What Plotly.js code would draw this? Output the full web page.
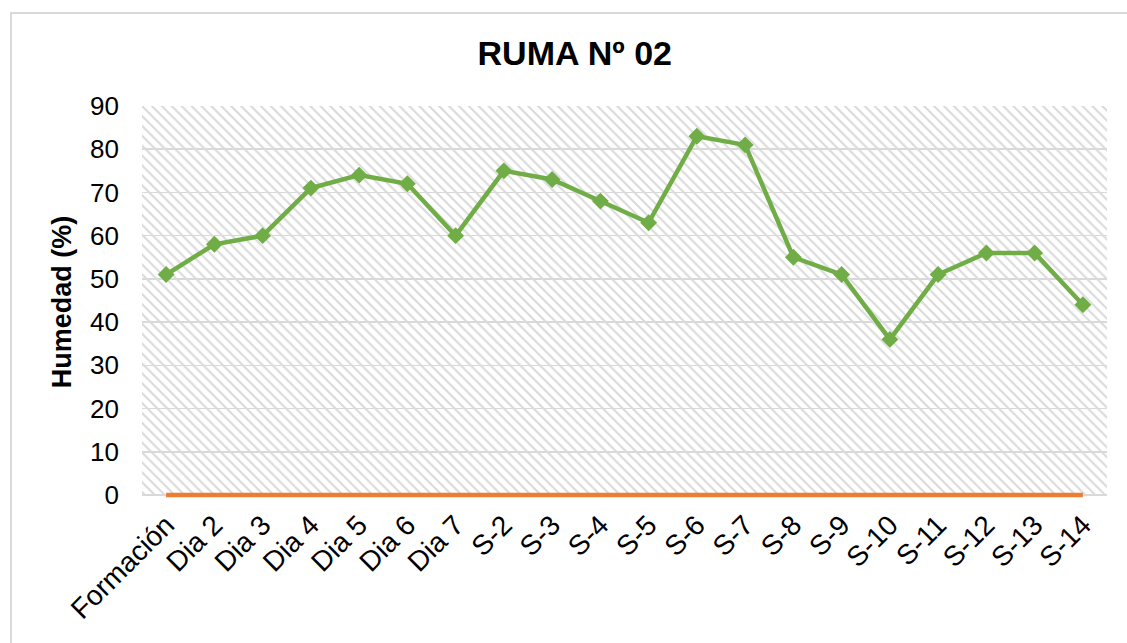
<!DOCTYPE html>
<html>
<head>
<meta charset="utf-8">
<script src="https://cdn.plot.ly/plotly-3.0.1.min.js"></script>
<style>
  body { margin: 0; background: #ffffff; }
  #wrap { position: relative; width: 1127px; height: 643px; overflow: hidden; }
  #chart { position: absolute; left: 0; top: 0; width: 1127px; height: 643px; }
  #frame { position: absolute; left: 10px; top: 12px; width: 1200px; height: 700px;
           border-top: 2px solid #d9d9d9; border-left: 2px solid #d9d9d9; pointer-events: none; }
</style>
</head>
<body>
<div id="wrap">
  <div id="chart"></div>
  <div id="frame"></div>
</div>
<script>
const categories = ["Formación", "Dia 2", "Dia 3", "Dia 4", "Dia 5", "Dia 6", "Dia 7",
  "S-2", "S-3", "S-4", "S-5", "S-6", "S-7", "S-8", "S-9", "S-10", "S-11", "S-12", "S-13", "S-14"];
const humedad = [51, 58, 60, 71, 74, 72, 60, 75, 73, 68, 63, 83, 81, 55, 51, 36, 51, 56, 56, 44];
const base = [0, 0, 0, 0, 0, 0, 0, 0, 0, 0, 0, 0, 0, 0, 0, 0, 0, 0, 0, 0];
const yTicks = [0, 10, 20, 30, 40, 50, 60, 70, 80, 90];
const yMax = 90;

const traces = [
  {
    // hatched plot-area background (on hidden base axis, drawn below the data)
    type: "bar", x: [0.5], y: [yMax], width: [1],
    xaxis: "x", yaxis: "y",
    marker: { color: "rgba(0,0,0,0)", line: { width: 0 },
      pattern: { shape: "\\", fgcolor: "#dadada", bgcolor: "rgba(0,0,0,0)", size: 7, solidity: 0.3 } },
    hoverinfo: "skip", showlegend: false
  },
  {
    type: "scatter", mode: "lines", x: categories, y: base,
    xaxis: "x2", yaxis: "y",
    line: { color: "#ED7D31", width: 4.5 },
    showlegend: false, hoverinfo: "skip"
  },
  {
    type: "scatter", mode: "lines+markers", x: categories, y: humedad,
    xaxis: "x2", yaxis: "y",
    line: { color: "#70AD47", width: 4.5 },
    marker: { symbol: "diamond", size: 13, color: "#70AD47" },
    showlegend: false
  }
];

const layout = {
  width: 1127, height: 643,
  margin: { l: 142, r: 20, t: 106, b: 145 },
  paper_bgcolor: "#ffffff",
  plot_bgcolor: "#ffffff",
  font: { family: "Liberation Sans, Arial, sans-serif", color: "#000000" },
  title: { text: "<b>RUMA Nº 02</b>", x: 0.51, xanchor: "center", y: 0.917, yanchor: "middle",
    font: { size: 34, color: "#000000" } },
  xaxis: {
    range: [0, 1], visible: false, fixedrange: true, showgrid: false, zeroline: false
  },
  xaxis2: {
    type: "category", overlaying: "x", anchor: "y", side: "bottom",
    range: [-0.5, categories.length - 0.5],
    tickangle: -45, tickfont: { size: 28, color: "#000000" },
    ticklabelstandoff: 4,
    showgrid: false, showline: false,
    ticks: "", zeroline: false, fixedrange: true
  },
  yaxis: {
    range: [-0.7, yMax], tickvals: yTicks, ticktext: yTicks.map(String),
    tickfont: { size: 26, color: "#000000" },
    showgrid: true, gridcolor: "#d9d9d9", gridwidth: 1.5,
    zeroline: false, showline: false, ticks: "",
    ticklabelstandoff: 22,
    title: { text: "<b>Humedad (%)</b>", font: { size: 27, color: "#000000" }, standoff: 10 },
    fixedrange: true
  },
  bargap: 0,
  hovermode: "closest"
};

Plotly.newPlot("chart", traces, layout, { displayModeBar: false, staticPlot: true });
</script>
</body>
</html>
